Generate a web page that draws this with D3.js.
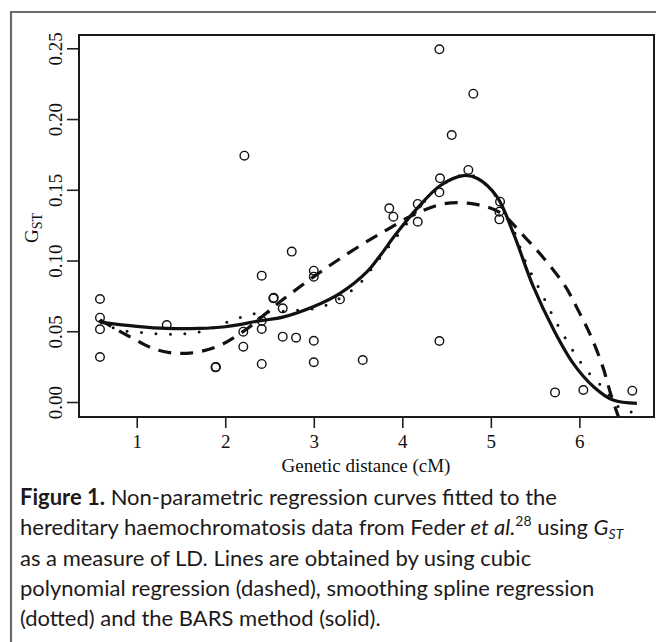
<!DOCTYPE html>
<html>
<head>
<meta charset="utf-8">
<script src="https://cdn.jsdelivr.net/npm/d3@7"></script>
<style>
  body { margin: 0; background: #fff; }
  svg { display: block; }
  .tick-label { font-family: "Liberation Serif", "DejaVu Serif", serif; font-size: 19px; fill: #111; }
  .caption { font-family: "Lato", "Open Sans", sans-serif; font-size: 22px; fill: #1d1a1b; }
</style>
</head>
<body>
<svg class="gst-chart"></svg>
<script>
// observed G_ST values against genetic distance
var pointsX = [0.585, 0.585, 0.585, 0.585, 1.339, 1.89, 1.895, 2.216, 2.204, 2.204,
  2.412, 2.412, 2.412, 2.412, 2.543, 2.548, 2.649, 2.649, 2.80, 2.751,
  3.0, 3.0, 3.0, 3.0, 3.296, 3.553, 3.853, 3.899, 4.174, 4.174,
  4.419, 4.426, 4.419, 4.419, 4.558, 4.746, 4.802, 5.104, 5.096, 5.096,
  5.725, 6.045, 6.598];
var pointsY = [0.0728, 0.0596, 0.0514, 0.0318, 0.0544, 0.0245, 0.0248, 0.1741, 0.0497, 0.0391,
  0.0893, 0.0575, 0.0516, 0.0269, 0.0733, 0.0736, 0.0662, 0.0462, 0.0455, 0.1063,
  0.0928, 0.0886, 0.0433, 0.0281, 0.0726, 0.0297, 0.1369, 0.131, 0.140, 0.1274,
  0.2493, 0.1581, 0.1482, 0.0431, 0.1887, 0.164, 0.2179, 0.1416, 0.1345, 0.1291,
  0.0068, 0.0085, 0.0080];

// cubic polynomial regression (dashed)
var polyX = [0.585, 0.92, 1.23, 1.56, 1.9, 2.2, 2.62, 3.0, 3.3, 3.64, 3.82, 4.1, 4.46,
  4.8, 5.1, 5.386, 5.6, 5.838, 5.977, 6.12, 6.264, 6.354, 6.45];
var polyY = [0.058, 0.0462, 0.0368, 0.0344, 0.039, 0.0497, 0.0709, 0.0886, 0.1015, 0.115, 0.1215, 0.1315, 0.140,
  0.140, 0.134, 0.1164, 0.1015, 0.082, 0.066, 0.048, 0.025, 0.0057, -0.012];

// smoothing spline regression (dotted)
var splineX = [0.585, 0.755, 0.92, 1.09, 1.26, 1.43, 1.58, 1.75, 2.07, 2.23, 2.39, 2.73,
  3.07, 3.37, 3.52, 3.73, 4.0, 4.3, 4.6, 4.8, 5.0, 5.2, 5.4, 5.556, 5.706, 5.876,
  6.064, 6.29, 6.44, 6.553, 6.648];
var splineY = [0.057, 0.052, 0.0497, 0.049, 0.048, 0.048, 0.0485, 0.0502, 0.0575, 0.0608, 0.0631, 0.0645,
  0.0669, 0.0763, 0.0839, 0.1004, 0.122, 0.145, 0.159, 0.16, 0.15, 0.13, 0.098, 0.079, 0.0603, 0.0415,
  0.0238, 0.0085, -0.0033, -0.0057, -0.0104];

// BARS method (solid)
var barsX = [0.585, 1.0, 1.34, 1.7, 2.0, 2.4, 2.65, 3.0, 3.3, 3.6, 3.75, 3.92, 4.17, 4.43,
  4.69, 4.85, 5.07, 5.25, 5.48, 5.71, 5.93, 6.16, 6.38, 6.65];
var barsY = [0.0565, 0.0535, 0.052, 0.052, 0.0532, 0.0575, 0.060, 0.0675, 0.077, 0.092, 0.1035, 0.118, 0.137, 0.153,
  0.160, 0.158, 0.145, 0.12, 0.0815, 0.051, 0.0273, 0.0108, 0.0014, -0.001];

var xTicks = [1, 2, 3, 4, 5, 6];
var yTicks = [0.00, 0.05, 0.10, 0.15, 0.20, 0.25];

var captionLines = [
  [{t: "Figure 1.", b: true}, {t: " Non-parametric regression curves fitted to the"}],
  [{t: "hereditary haemochromatosis data from Feder "}, {t: "et al.", i: true}, {t: "28", sup: true},
   {t: " using ", back: true}, {t: "G", i: true}, {t: "ST", i: true, sub: true}],
  [{t: "as a measure of LD. Lines are obtained by using cubic"}],
  [{t: "polynomial regression (dashed), smoothing spline regression"}],
  [{t: "(dotted) and the BARS method (solid)."}]
];

drawChart();

function drawChart() {
  var W = 656, H = 642;
  var plot = {left: 79, right: 654, top: 35, bottom: 417};

  var svg = d3.select(".gst-chart")
    .attr("width", W)
    .attr("height", H);

  // outer figure frame (cropped at right and bottom)
  svg.append("path")
    .attr("d", "M11," + H + "V12H" + W)
    .attr("fill", "none")
    .attr("stroke", "#6b6b6b")
    .attr("stroke-width", 2.2);

  var x = d3.scaleLinear().domain([0.348, 6.843]).range([plot.left, plot.right]);
  var y = d3.scaleLinear().domain([-0.0106, 0.2594]).range([plot.bottom, plot.top]);

  svg.append("clipPath").attr("id", "plot-clip")
    .append("rect")
    .attr("x", plot.left).attr("y", plot.top)
    .attr("width", plot.right - plot.left).attr("height", plot.bottom - plot.top);

  // x axis
  var xAxis = svg.append("g")
    .attr("transform", "translate(0," + plot.bottom + ")")
    .call(d3.axisBottom(x).tickValues(xTicks).tickSize(11).tickPadding(5).tickFormat(d3.format("d")));
  xAxis.select(".domain").remove();
  xAxis.selectAll("line").attr("stroke", "#222").attr("stroke-width", 1.6);
  xAxis.selectAll("text").attr("class", "tick-label").attr("dy", null).attr("y", 31);

  // y axis with rotated labels
  var yAxis = svg.append("g")
    .attr("transform", "translate(" + plot.left + ",0)")
    .call(d3.axisLeft(y).tickValues(yTicks).tickSize(12).tickFormat(d3.format(".2f")));
  yAxis.select(".domain").remove();
  yAxis.selectAll("line").attr("stroke", "#222").attr("stroke-width", 1.6);
  yAxis.selectAll("text")
    .attr("class", "tick-label")
    .attr("x", null).attr("dy", null)
    .attr("text-anchor", "middle")
    .attr("transform", "translate(-17,0) rotate(-90)");

  // plot box
  svg.append("rect")
    .attr("x", plot.left).attr("y", plot.top)
    .attr("width", plot.right - plot.left).attr("height", plot.bottom - plot.top)
    .attr("fill", "none")
    .attr("stroke", "#1a1a1a")
    .attr("stroke-width", 2);

  // axis titles
  svg.append("text")
    .attr("class", "tick-label")
    .attr("x", 366).attr("y", 472)
    .attr("text-anchor", "middle")
    .text("Genetic distance (cM)");

  var gLabel = svg.append("text")
    .attr("class", "tick-label")
    .attr("text-anchor", "middle")
    .attr("transform", "translate(38,228) rotate(-90)");
  gLabel.append("tspan").text("G");
  gLabel.append("tspan").attr("font-size", "14px").attr("dy", 4).text("ST");

  var marks = svg.append("g").attr("clip-path", "url(#plot-clip)");

  var line = d3.line()
    .x(function(d) { return x(d[0]); })
    .y(function(d) { return y(d[1]); })
    .curve(d3.curveCatmullRom.alpha(0.5));

  marks.append("path")
    .datum(d3.zip(polyX, polyY))
    .attr("d", line)
    .attr("fill", "none")
    .attr("stroke", "#111")
    .attr("stroke-width", 3.2)
    .attr("stroke-dasharray", "13,9");

  marks.append("path")
    .datum(d3.zip(splineX, splineY))
    .attr("d", line)
    .attr("fill", "none")
    .attr("stroke", "#111")
    .attr("stroke-width", 3)
    .attr("stroke-linecap", "round")
    .attr("stroke-dasharray", "0,14.5");

  marks.append("path")
    .datum(d3.zip(barsX, barsY))
    .attr("d", line)
    .attr("fill", "none")
    .attr("stroke", "#111")
    .attr("stroke-width", 3.2);

  marks.selectAll("circle")
    .data(d3.zip(pointsX, pointsY))
    .enter().append("circle")
    .attr("cx", function(d) { return x(d[0]); })
    .attr("cy", function(d) { return y(d[1]); })
    .attr("r", 4.3)
    .attr("fill", "none")
    .attr("stroke", "#111")
    .attr("stroke-width", 1.4);

  // figure caption
  var caption = svg.append("g");
  captionLines.forEach(function(parts, i) {
    var t = caption.append("text")
      .attr("class", "caption")
      .attr("x", 20)
      .attr("y", 505 + i * 30.3);
    parts.forEach(function(p) {
      var s = t.append("tspan").text(p.t);
      if (p.b) s.attr("font-weight", "bold");
      if (p.i) s.attr("font-style", "italic");
      if (p.sup) s.attr("font-size", "14px").attr("dy", -9);
      if (p.back) s.attr("dy", 9);
      if (p.sub) s.attr("font-size", "14px").attr("dy", 4);
    });
  });
}
</script>
</body>
</html>
